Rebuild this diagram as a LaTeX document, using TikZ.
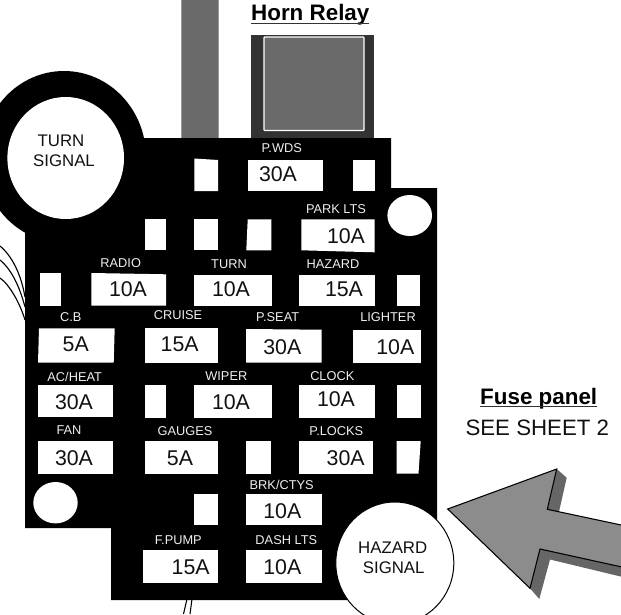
\documentclass[tikz,border=0pt]{standalone}
\usepackage{fontspec}
\setmainfont{Liberation Sans}
\definecolor{bargrey}{HTML}{6A6A6A}
\definecolor{baredge}{HTML}{9A9A9A}
\definecolor{relaydark}{HTML}{333333}
\definecolor{arrowfill}{HTML}{8C8C8C}
\definecolor{arrowshadow}{HTML}{666666}
\definecolor{lbl}{HTML}{EFEFEF}
\definecolor{txt}{HTML}{111111}
\tikzset{
  pic text/.style={inner sep=0pt,outer sep=0pt,anchor=base,align=center},
  small label/.style={pic text,text=lbl,font=\fontsize{9.6}{11}\selectfont},
  amp label/.style={pic text,text=txt,font=\fontsize{16}{18}\selectfont},
  signal label/.style={pic text,text=txt,font=\fontsize{12.6}{14}\selectfont},
  title label/.style={pic text,text=black,font=\fontsize{16.8}{19}\selectfont\bfseries},
  note label/.style={pic text,text=txt,font=\fontsize{16.7}{19}\selectfont},
  wire/.style={draw=black,line width=0.85pt},
  thin wire/.style={draw=black,line width=0.8pt},
  title rule/.style={draw=black!80,line width=1.1pt}
}
\newcommand{\bx}[4]{\fill[white] (#1,#2) rectangle (#3,#4);}
\newcommand{\sm}[4]{\node[small label] (#1) at (#2,#3) {#4};}
\newcommand{\amp}[4]{\node[amp label] (#1) at (#2,#3) {#4};}
\begin{document}
\begin{tikzpicture}[x=0.75pt,y=-0.75pt]
\useasboundingbox (0,0) rectangle (621,614);
\clip (0,0) rectangle (621,614);
% wires
\coordinate (wa0) at (0,246); \coordinate (wa1) at (25,297);
\coordinate (wb0) at (0,260); \coordinate (wb1) at (25,307);
\coordinate (wc0) at (0,278); \coordinate (wc1) at (25,320);
\draw[wire] (wa0) .. controls (12,256) and (21,274) .. (wa1);
\draw[wire] (wb0) .. controls (10,268) and (19,284) .. (wb1);
\draw[wire] (wc0) .. controls (9,284) and (20,303) .. (wc1);
\coordinate (wd0) at (187,599); \coordinate (wd1) at (183.5,614);
\coordinate (we0) at (192,599); \coordinate (we1) at (190,614);
\draw[thin wire] (wd0) -- (wd1);
\draw[thin wire] (we0) -- (we1);
% grey bar
\fill[baredge] (180.5,0) rectangle (219,139);
\fill[bargrey] (182,0) rectangle (217.7,139);
% relay
\fill[relaydark] (250.5,34.5) rectangle (374,139);
\filldraw[fill=bargrey,draw=white,line width=0.9pt,rounded corners=0.6pt] (264,37) rectangle (364,130.5);
% panel
\fill[black] (25,229) -- (25,528) -- (111,528) -- (111,600) -- (437,600) -- (437,188) -- (391,188) -- (391,138) -- (145.5,138) -- (25,138) -- cycle;
\fill[black] (64,157) ellipse [x radius=82,y radius=86];
% turn signal
\fill[white] (65.7,158) ellipse [x radius=58.3,y radius=61];
% holes
\fill[white] (194.3,158.5) -- (218,160) -- (218,191) -- (194.3,191) -- cycle;
\bx{247.7}{160}{323}{191}
\bx{353}{160}{375}{191}
\bx{144.7}{219.3}{166}{250.3}
\bx{194.3}{219.3}{218}{250.3}
\fill[white] (247.7,219.3) -- (271.3,219.3) -- (271.3,250.3) -- (246.3,250.3) -- cycle;
\fill[white] (301.3,219.3) -- (374.7,219.3) -- (374.7,252.3) -- (301.3,250.3) -- cycle;
\bx{39.7}{272.7}{61.3}{305.7}
\fill[white] (91.3,273) -- (166,274.3) -- (166,305.7) -- (91.3,305.7) -- cycle;
\bx{194.3}{274.7}{271.7}{305.7}
\bx{299.3}{274.7}{374.7}{305.7}
\bx{397}{274.7}{420.3}{305.7}
\fill[white] (39,328.3) -- (114.7,328.3) -- (113.7,362.7) -- (38,362.7) -- cycle;
\bx{144.7}{328.3}{218}{362.7}
\fill[white] (246,329) -- (321.7,329.7) -- (321.7,362.7) -- (246,362.7) -- cycle;
\bx{353}{330}{420.7}{362.7}
\bx{37.7}{385}{113.3}{417}
\bx{144.7}{385}{166}{418}
\bx{194.3}{385}{271.7}{418}
\bx{299.3}{385}{374.7}{418}
\bx{396.7}{385}{420.7}{418}
\bx{37.7}{441}{113.3}{473.7}
\bx{144.7}{441}{218}{473.7}
\bx{246}{441}{271.3}{473.7}
\bx{299.3}{441}{373}{473.7}
\fill[white] (396.7,441) -- (420.7,441) -- (418.5,473.7) -- (396.7,473.7) -- cycle;
\bx{194.3}{494}{218}{525.3}
\bx{246}{494}{321.7}{525.3}
\bx{143}{550}{218}{582.7}
\bx{246}{550}{321.7}{582.7}
% mounting holes
\fill[white] (409.7,215.5) ellipse [x radius=22.3,y radius=20.5];
\fill[white] (55.5,502.7) ellipse [x radius=22.2,y radius=20.7];
% hazard signal
\filldraw[fill=white,draw=black,line width=0.75pt] (394.8,563) ellipse [x radius=59,y radius=61];
% arrow
\fill[arrowshadow] (530,588.3) -- (539.3,599) -- (550,559.5) -- (631,579) -- (631,535) -- (557.3,519.3) -- (566.7,477.7) -- (556.7,469) -- cycle;
\filldraw[fill=arrowfill,draw=black,line width=0.8pt,line join=miter] (447.7,509) -- (556.7,469) -- (547.3,509.3) -- (640,529) -- (640,571) -- (540,549) -- (530,588.3) -- cycle;
% texts
\node[title label] (horn) at (310.3,21) {Horn Relay};
\node[title label] (fuse) at (538.7,404) {Fuse panel};
\draw[title rule] ([yshift=-1.8pt]horn.base west) -- ([yshift=-1.8pt]horn.base east);
\draw[title rule] ([yshift=-1.8pt]fuse.base west) -- ([yshift=-1.8pt]fuse.base east);
\node[note label] (sheet) at (537.3,435.7) {SEE SHEET 2};
\node[signal label] (turnsiga) at (61,146) {TURN};
\node[signal label] (turnsigb) at (64,166) {SIGNAL};
\node[signal label] (hazsiga) at (392.7,553.3) {HAZARD};
\node[signal label] (hazsigb) at (393.7,573.3) {SIGNAL};
\sm{pwds}{281.7}{152.7}{P.WDS}
\sm{parklts}{336}{213.3}{PARK LTS}
\sm{radio}{120.7}{267.3}{RADIO}
\sm{turn}{229}{268}{TURN}
\sm{hazard}{333}{268}{HAZARD}
\sm{cb}{70.7}{321}{C.B}
\sm{cruise}{178}{319.3}{CRUISE}
\sm{pseat}{277.7}{321}{P.SEAT}
\sm{lighter}{388}{321}{LIGHTER}
\sm{acheat}{74.7}{381}{AC/HEAT}
\sm{wiper}{226.3}{380.7}{WIPER}
\sm{clock}{332.3}{380.7}{CLOCK}
\sm{fan}{69}{434.3}{FAN}
\sm{gauges}{185}{435}{GAUGES}
\sm{plocks}{336.3}{435}{P.LOCKS}
\sm{brk}{281.7}{489.3}{BRK/CTYS}
\sm{fpump}{178.3}{544.3}{F.PUMP}
\sm{dash}{286.3}{544.3}{DASH LTS}
\amp{apwds}{278}{181}{30A}
\amp{aparklts}{346}{243}{10A}
\amp{aradio}{128}{296}{10A}
\amp{aturn}{231}{296}{10A}
\amp{ahazard}{344}{296}{15A}
\amp{acb}{75.7}{351.7}{5A}
\amp{acruise}{179.7}{351.7}{15A}
\amp{apseat}{282.3}{354}{30A}
\amp{alighter}{395.3}{354.3}{10A}
\amp{aacheat}{74}{409}{30A}
\amp{awiper}{231}{409}{10A}
\amp{aclock}{336}{406.7}{10A}
\amp{afan}{74}{465}{30A}
\amp{agauges}{180}{465}{5A}
\amp{aplocks}{345.7}{465}{30A}
\amp{abrk}{282.3}{518}{10A}
\amp{afpump}{190.7}{574}{15A}
\amp{adash}{282.3}{574}{10A}
\end{tikzpicture}
\end{document}
